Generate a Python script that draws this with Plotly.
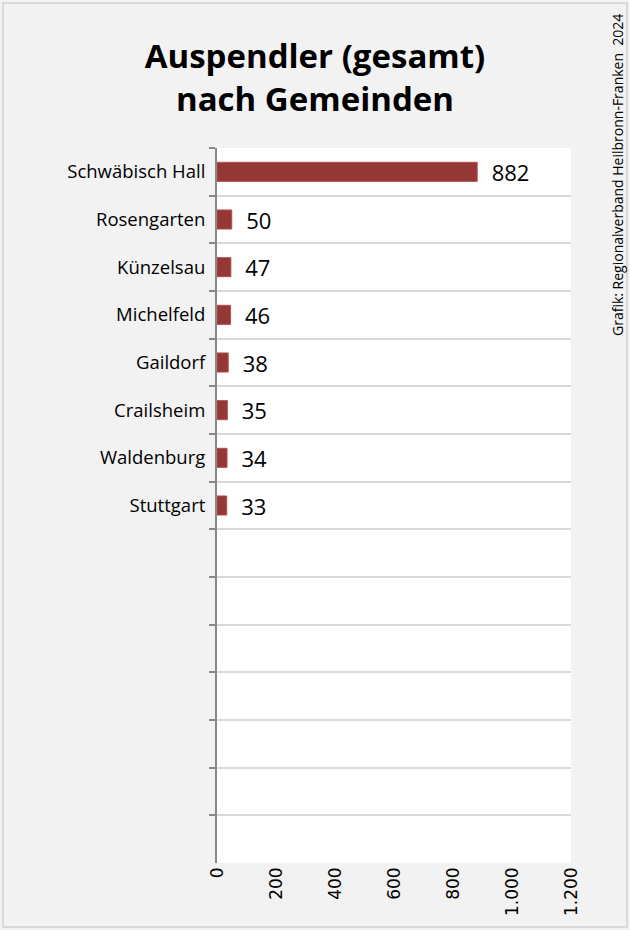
import plotly.graph_objects as go

categories = ["Schwäbisch Hall", "Rosengarten", "Künzelsau", "Michelfeld",
              "Gaildorf", "Crailsheim", "Waldenburg", "Stuttgart"]
values = [882, 50, 47, 46, 38, 35, 34, 33]
empty_slots = [" " * (i + 1) for i in range(7)]
x_ticks = [0, 200, 400, 600, 800, 1000, 1200]

title_text = "Auspendler (gesamt)<br>nach Gemeinden"
source_text = "Grafik: Regionalverband Heilbronn-Franken  2024"

all_cats = categories + empty_slots

fig = go.Figure()
fig.add_trace(go.Bar(
    x=values, y=categories, orientation="h",
    marker=dict(color="#953735", line=dict(color="#b0504d", width=1)),
    text=values, texttemplate="  %{x}", textposition="outside",
    constraintext="none",
    textfont=dict(family="Open Sans", size=22, color="#000000"),
    cliponaxis=False, hoverinfo="x+y",
))
# empty category slots (no values) keep their place on the axis
fig.add_trace(go.Bar(
    x=[None] * len(empty_slots), y=empty_slots, orientation="h",
    marker=dict(color="#953735"), hoverinfo="skip",
))

W, H = 630, 930
L, R, T, B = 217, 59, 148, 67
pw, ph = W - L - R, H - T - B

def px(x):
    return (x - L) / pw

def py(y):
    return (H - B - y) / ph

fig.update_layout(
    width=W, height=H,
    margin=dict(l=L, r=R, t=T, b=B),
    paper_bgcolor="#f2f2f2", plot_bgcolor="#ffffff",
    separators=",.",
    barmode="overlay",
    bargap=0.6,
    showlegend=False,
    title=dict(text=title_text, x=px(315), xanchor="center", xref="paper",
               y=1 - 68 / H, yanchor="middle",
               font=dict(family="Open Sans", size=33, color="#000000", weight="bold")),
    xaxis=dict(range=[0, 1200], tickvals=x_ticks, tickformat=",d",
               tickangle=-90, showgrid=False, zeroline=False,
               showline=False, ticks="",
               tickfont=dict(family="DejaVu Sans", size=17, color="#000000")),
    yaxis=dict(type="category", categoryorder="array", categoryarray=all_cats,
               range=[len(all_cats) - 0.5, -0.5], tickson="boundaries",
               showgrid=True, gridcolor="#d9d9d9", gridwidth=2,
               showline=True, linecolor="#898989", linewidth=2,
               ticks="outside", ticklen=6, tickcolor="#898989", tickwidth=2,
               ticklabelstandoff=6,
               tickfont=dict(family="Open Sans", size=18.5, color="#000000")),
    shapes=[dict(type="rect", xref="paper", yref="paper",
                 x0=px(3), x1=px(627), y0=py(927), y1=py(3),
                 line=dict(color="#d9d9d9", width=2), fillcolor="rgba(0,0,0,0)",
                 layer="below")],
    annotations=[dict(text=source_text, xref="paper", yref="paper",
                      x=px(617), y=py(175), xanchor="center", yanchor="middle",
                      textangle=-90, showarrow=False,
                      font=dict(family="Open Sans", size=14, color="#000000"))],
)

fig.write_html("out.html", config={"displayModeBar": False},
               post_script="document.body.style.margin='0';document.body.style.overflow='hidden';")
